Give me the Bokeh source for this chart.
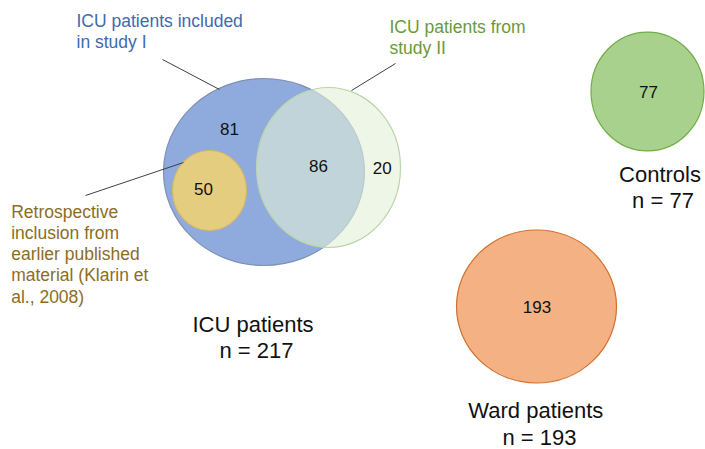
from bokeh.plotting import figure
from bokeh.models import Range1d
from bokeh.embed import file_html
from bokeh.resources import INLINE
from bokeh.core.properties import value

# ---------------- data ----------------
region_labels = ["Study I only", "Retrospective", "Study I and II", "Study II only"]
region_counts = [81, 50, 86, 20]
control_count = 77
ward_count = 193
icu_total = 217
group_names = ["ICU patients", "Controls", "Ward patients"]
group_totals = [icu_total, control_count, ward_count]
callout_study1 = ["ICU patients included", "in study I"]
callout_study2 = ["ICU patients from", "study II"]
callout_retro = ["Retrospective", "inclusion from", "earlier published",
                 "material (Klarin et", "al., 2008)"]

# ---------------- layout (positions / sizes / styles) ----------------
FONT = value("Liberation Sans")
p = figure(frame_width=705, frame_height=449, output_backend="svg", toolbar_location=None,
           x_range=Range1d(0, 705), y_range=Range1d(449, 0),
           x_axis_location=None, y_axis_location=None,
           min_border=0, outline_line_color=None)
p.grid.visible = False

# sets: (x, y, w, h, fill, alpha, edge)
blue = (263.5, 171.5, 201, 187, "#8FAADC", 1.0, "#7F91B3")
yellow = (209, 190, 74, 80, "#E5CD80", 1.0, "#D8B866")
green = (328, 167, 144, 160, "#E2F0D9", 0.6, "#B9D6A6")
ctrl = (647, 91, 113, 119, "#A9D18E", 1.0, "#70AD47")
ward = (536, 306, 160, 153, "#F4B183", 1.0, "#D2702C")
for (cx, cy, w, h, fc, fa, lc) in [blue, yellow, green, ctrl, ward]:
    p.ellipse(x=[cx], y=[cy], width=[w], height=[h], fill_color=fc,
              fill_alpha=fa, line_color=lc, line_width=1.2)

# leader lines
p.segment(x0=[162, 395, 85], y0=[59, 63, 195], x1=[219, 351, 183],
          y1=[89, 90, 162], line_color="#404040", line_width=1)

SHIFT = 0.37  # baseline correction, in em


def txt(xs, ys, items, color, size, align="center"):
    ys = [y - SHIFT * size for y in ys]
    p.text(x=xs, y=ys, text=items, text_font=FONT, text_font_size=f"{size}px",
           text_color=color, text_align=align, text_baseline="alphabetic")


# region counts
txt([229, 203, 318, 381.7], [135, 194.3, 171.7, 173.3],
    [str(v) for v in region_counts], "#111111", 17)
txt([648, 536.5], [97.7, 312.7], [str(control_count), str(ward_count)],
    "#111111", 17)


# callouts
def lines(x0, y0, dy, items, color, size):
    txt([x0] * len(items), [y0 + i * dy for i in range(len(items))],
        items, color, size, align="left")


lines(76, 26.7, 21.2, callout_study1, "#4169B0", 17.5)
lines(389, 33, 21.2, callout_study2, "#6A9A3A", 17.5)
lines(10.7, 217.7, 21.2, callout_retro, "#8C6D1F", 17.5)

# group totals
title_pos = [(252.5, 256, 331.7), (659.5, 662.5, 181.7), (535.3, 539, 418.3)]
for name, tot, (xa, xb, yb) in zip(group_names, group_totals, title_pos):
    txt([xa, xb], [yb, yb + 26.6], [name, f"n = {tot}"], "#111111", 22)

open("out.html", "w").write(file_html(p, INLINE))
